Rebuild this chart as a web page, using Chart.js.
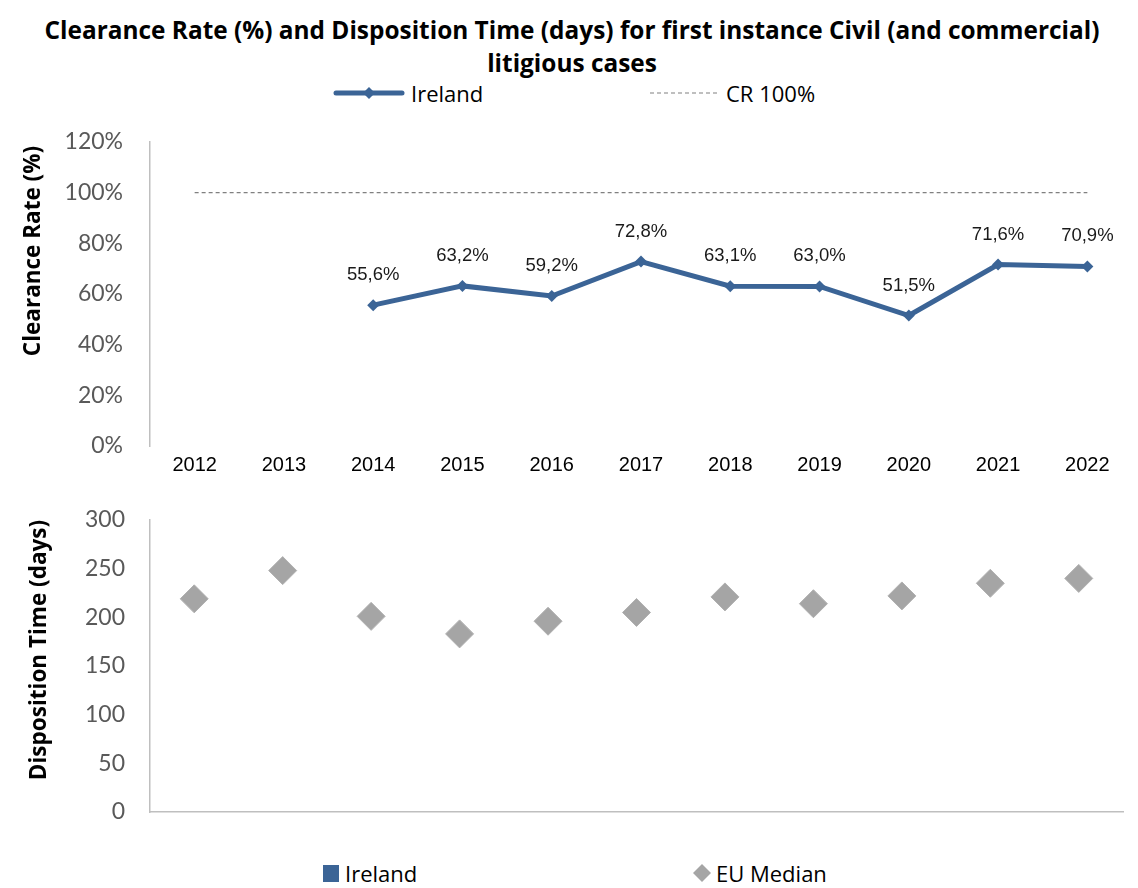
<!DOCTYPE html>
<html>
<head>
<meta charset="utf-8">
<script src="https://cdn.jsdelivr.net/npm/chart.js@4.4.1/dist/chart.umd.min.js"></script>
<style>
  html,body{margin:0;padding:0;background:#fff;}
  body{width:1138px;height:888px;position:relative;overflow:hidden;font-family:"Open Sans",Lato,sans-serif;}
  #title{position:absolute;left:0;top:13px;width:1144px;text-align:center;font-weight:bold;font-size:24.4px;line-height:33px;color:#000;}
  .leg{position:absolute;font-size:22px;color:#000;line-height:28px;white-space:nowrap;}
  .sym{position:absolute;}
  .ytitle{position:absolute;width:400px;height:30px;line-height:30px;text-align:center;font-weight:bold;font-size:22.5px;color:#000;transform:rotate(-90deg);white-space:nowrap;}
  canvas{position:absolute;left:0;}
</style>
</head>
<body>
<div id="title">Clearance Rate (%) and Disposition Time (days) for first instance Civil (and commercial)<br>litigious cases</div>

<svg class="sym" style="left:330px;top:83px" width="80" height="20">
  <line x1="6" y1="10" x2="72" y2="10" stroke="#3B6496" stroke-width="5" stroke-linecap="round"/>
  <polygon points="39,4 45,10 39,16 33,10" fill="#3B6496"/>
</svg>
<div class="leg" style="left:411px;top:79px">Ireland</div>
<svg class="sym" style="left:648px;top:83px" width="76" height="20">
  <line x1="2" y1="10" x2="72" y2="10" stroke="#808080" stroke-width="1.2" stroke-dasharray="4,3"/>
</svg>
<div class="leg" style="left:726px;top:79px">CR 100%</div>

<svg class="sym" style="left:323px;top:865px" width="16" height="17">
  <rect x="0" y="0" width="16" height="17" fill="#3B6496"/>
</svg>
<div class="leg" style="left:345px;top:859px">Ireland</div>
<svg class="sym" style="left:692px;top:863px" width="20" height="20">
  <polygon points="10,1 19,10 10,19 1,10" fill="#A5A5A5"/>
</svg>
<div class="leg" style="left:716px;top:859px">EU Median</div>

<canvas id="c1" width="1138" height="360" style="top:120px"></canvas>
<canvas id="c2" width="1138" height="340" style="top:490px"></canvas>

<div class="ytitle" style="left:-168px;top:236px">Clearance Rate (%)</div>
<div class="ytitle" style="left:-162px;top:635px">Disposition Time (days)</div>

<script>
// ---- data ----
const years = ['2012','2013','2014','2015','2016','2017','2018','2019','2020','2021','2022'];
const irelandCR = [null, null, 55.6, 63.2, 59.2, 72.8, 63.1, 63.0, 51.5, 71.6, 70.9];
const cr100 = [100, 100, 100, 100, 100, 100, 100, 100, 100, 100, 100];
const irelandDT = [null, null, null, null, null, null, null, null, null, null, null];
const euMedianDT = [219, 248, 201, 183, 196, 205, 221, 214, 222, 235, 240];
const crTicks = [0, 20, 40, 60, 80, 100, 120];
const dtTicks = [0, 50, 100, 150, 200, 250, 300];

Chart.defaults.font.family = 'Lato';
Chart.defaults.animation = false;

const blue = '#3B6496';
const grey = '#A5A5A5';
const axisGrey = '#BFBFBF';
const tickGrey = '#595959';

function noPad(s) { s.paddingTop = 0; s.paddingBottom = 0; s.paddingLeft = 0; s.paddingRight = 0; }

const pointLabels = {
  id: 'pointLabels',
  afterDatasetsDraw(chart) {
    const ctx = chart.ctx;
    const meta = chart.getDatasetMeta(0);
    const data = chart.data.datasets[0].data;
    ctx.save();
    ctx.font = '18.5px "Liberation Sans", Arial, sans-serif';
    ctx.fillStyle = '#1a1a1a';
    ctx.textAlign = 'center';
    ctx.textBaseline = 'middle';
    meta.data.forEach((pt, i) => {
      const v = data[i];
      if (v == null) return;
      ctx.fillText(v.toFixed(1).replace('.', ',') + '%', pt.x, pt.y - 30);
    });
    ctx.restore();
  }
};

new Chart(document.getElementById('c1'), {
  type: 'line',
  data: {
    labels: years,
    datasets: [
      {
        label: 'Ireland',
        data: irelandCR,
        borderColor: blue,
        backgroundColor: blue,
        borderWidth: 5,
        pointStyle: 'rectRot',
        pointRadius: 6,
        pointBorderWidth: 0,
        pointBackgroundColor: blue,
        tension: 0
      },
      {
        label: 'CR 100%',
        data: cr100,
        borderColor: '#808080',
        borderWidth: 1.2,
        borderDash: [4, 3],
        pointRadius: 0,
        tension: 0
      }
    ]
  },
  options: {
    responsive: false,
    devicePixelRatio: 1,
    layout: { padding: { top: 22, right: 3, left: 0, bottom: 0 } },
    plugins: { legend: { display: false }, title: { display: false }, tooltip: { enabled: false } },
    scales: {
      x: {
        offset: true,
        grid: { display: false, drawTicks: false },
        border: { display: false },
        ticks: { color: '#000', font: { family: '"Liberation Sans"', size: 20 }, padding: 7, maxRotation: 0 },
        afterFit(s) { s.height = 34; noPad(s); }
      },
      y: {
        min: 0, max: 120,
        afterBuildTicks(s) { s.ticks = crTicks.map(v => ({ value: v })); },
        grid: { display: false, drawTicks: false },
        border: { display: true, color: axisGrey, width: 1.5 },
        ticks: { color: tickGrey, font: { size: 23 }, padding: 27, callback: v => v + '%' },
        title: { display: false },
        afterFit(s) { s.width = 150; noPad(s); }
      }
    }
  },
  plugins: [pointLabels]
});

new Chart(document.getElementById('c2'), {
  data: {
    labels: years,
    datasets: [
      {
        type: 'bar',
        label: 'Ireland',
        data: irelandDT,
        backgroundColor: blue
      },
      {
        type: 'line',
        label: 'EU Median',
        data: euMedianDT,
        showLine: false,
        pointStyle: 'rectRot',
        pointRadius: 14,
        pointBackgroundColor: grey,
        pointBorderColor: '#B0B0B0',
        pointBorderWidth: 1
      }
    ]
  },
  options: {
    responsive: false,
    devicePixelRatio: 1,
    layout: { padding: { top: 30, right: 3, left: 0, bottom: 0 } },
    plugins: { legend: { display: false }, title: { display: false }, tooltip: { enabled: false } },
    scales: {
      x: {
        offset: true,
        grid: { display: false, drawTicks: false },
        border: { display: true, color: axisGrey, width: 1.5 },
        ticks: { display: false },
        afterFit(s) { s.height = 18; noPad(s); }
      },
      y: {
        min: 0, max: 300,
        afterBuildTicks(s) { s.ticks = dtTicks.map(v => ({ value: v })); },
        grid: { display: false, drawTicks: false },
        border: { display: true, color: axisGrey, width: 1.5 },
        ticks: { color: tickGrey, font: { size: 23 }, padding: 25 },
        title: { display: false },
        afterFit(s) { s.width = 150; noPad(s); }
      }
    }
  }
});
</script>
</body>
</html>
